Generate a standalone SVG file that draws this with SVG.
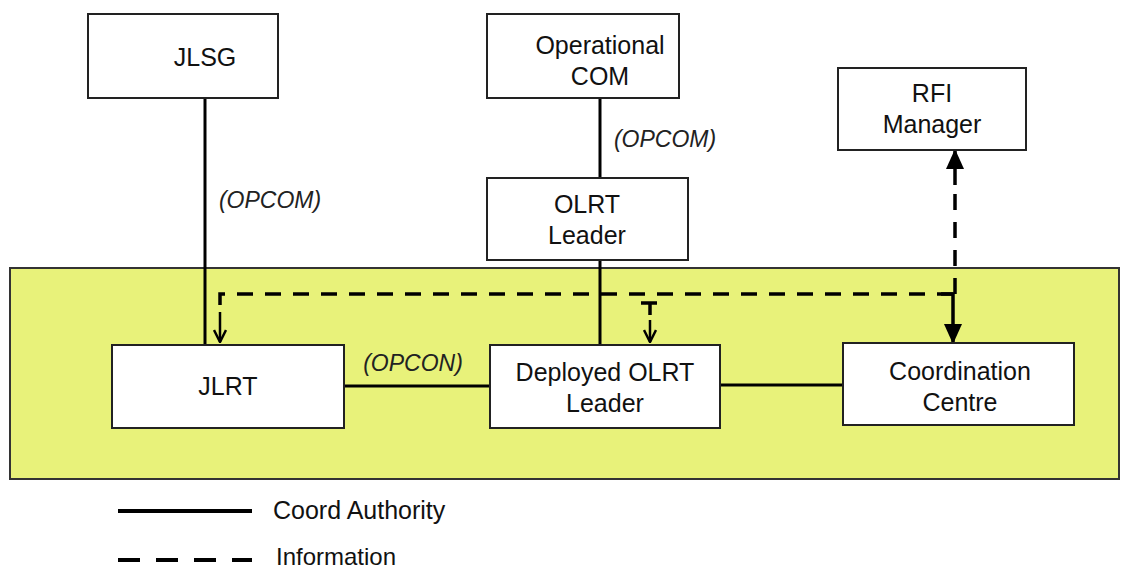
<svg xmlns="http://www.w3.org/2000/svg" width="1121" height="570" viewBox="0 0 1121 570">
<defs>
<style>
.box{fill:#fff;stroke:#222;stroke-width:2}
.t{font-family:"Liberation Sans",Arial,sans-serif;font-size:25px;fill:#111;text-anchor:middle}
.lbl{font-family:"Liberation Sans",Arial,sans-serif;font-size:23px;font-style:italic;fill:#222;text-anchor:middle}
.solid{stroke:#000;stroke-width:3;fill:none}
.dash{stroke:#000;stroke-width:3.5;fill:none;stroke-dasharray:16 12}
</style>
<marker id="bigA" viewBox="0 0 20 20" refX="19" refY="10" markerWidth="20" markerHeight="20" orient="auto" markerUnits="userSpaceOnUse">
<path d="M0,1 L20,10 L0,19 z" fill="#000"/>
</marker>
<marker id="openA" viewBox="0 0 14 14" refX="13" refY="7" markerWidth="14" markerHeight="14" orient="auto" markerUnits="userSpaceOnUse">
<path d="M1,1 L13,7 L1,13" fill="none" stroke="#000" stroke-width="2.5"/>
</marker>
</defs>
<rect width="1121" height="570" fill="#fff"/>
<rect id="zone" x="10" y="268" width="1109" height="211" fill="#e8f27a" stroke="#333" stroke-width="2"/>

<g id="connectors">
<line class="solid" x1="205" y1="98" x2="205" y2="345"/>
<line class="solid" x1="600" y1="98" x2="600" y2="178"/>
<line class="solid" x1="600" y1="260" x2="600" y2="345"/>
<line class="solid" x1="344" y1="386" x2="490" y2="386"/>
<line class="solid" x1="720" y1="385" x2="843" y2="385"/>
<path class="dash" d="M953,294 H220 V306"/>
<line x1="220" y1="312" x2="220" y2="342" stroke="#000" stroke-width="2.5" marker-end="url(#openA)"/>
<path class="dash" d="M641,303 H659 M650,303 V315"/>
<line x1="650" y1="320" x2="650" y2="342" stroke="#000" stroke-width="2.5" marker-end="url(#openA)"/>
<path d="M941,294 H953 V343" fill="none" stroke="#000" stroke-width="3.5" marker-end="url(#bigA)"/>
<path class="dash" d="M955,294 V183" stroke-dasharray="14 24"/>
<line x1="955" y1="185" x2="955" y2="150" stroke="#000" stroke-width="3.5" marker-end="url(#bigA)"/>
<text class="lbl" x="270" y="208">(OPCOM)</text>
<text class="lbl" x="665" y="147">(OPCOM)</text>
<text class="lbl" x="413" y="371">(OPCON)</text>
</g>

<g id="jlsg"><rect class="box" x="88" y="14" width="190" height="84"/><text class="t" x="205" y="66">JLSG</text></g>
<g id="opcom"><rect class="box" x="487" y="14" width="192" height="84"/><text class="t" x="600" y="54">Operational</text><text class="t" x="600" y="85">COM</text></g>
<g id="rfi"><rect class="box" x="838" y="68" width="188" height="82"/><text class="t" x="932" y="102">RFI</text><text class="t" x="932" y="133">Manager</text></g>
<g id="olrt"><rect class="box" x="487" y="178" width="201" height="82"/><text class="t" x="587" y="213">OLRT</text><text class="t" x="587" y="244">Leader</text></g>
<g id="jlrt"><rect class="box" x="112" y="345" width="232" height="83"/><text class="t" x="228" y="395">JLRT</text></g>
<g id="deployed"><rect class="box" x="490" y="345" width="230" height="83"/><text class="t" x="605" y="381">Deployed OLRT</text><text class="t" x="605" y="412">Leader</text></g>
<g id="coord"><rect class="box" x="843" y="343" width="231" height="82"/><text class="t" x="960" y="380">Coordination</text><text class="t" x="960" y="411">Centre</text></g>

<g id="legend">
<line x1="118" y1="511" x2="252" y2="511" stroke="#000" stroke-width="4"/>
<text x="273" y="519" font-family="Liberation Sans, Arial, sans-serif" font-size="25" fill="#111">Coord Authority</text>
<line x1="118" y1="560" x2="252" y2="560" stroke="#000" stroke-width="4" stroke-dasharray="22 16"/>
<text x="276" y="565" font-family="Liberation Sans, Arial, sans-serif" font-size="24" fill="#111">Information</text>
</g>
</svg>
